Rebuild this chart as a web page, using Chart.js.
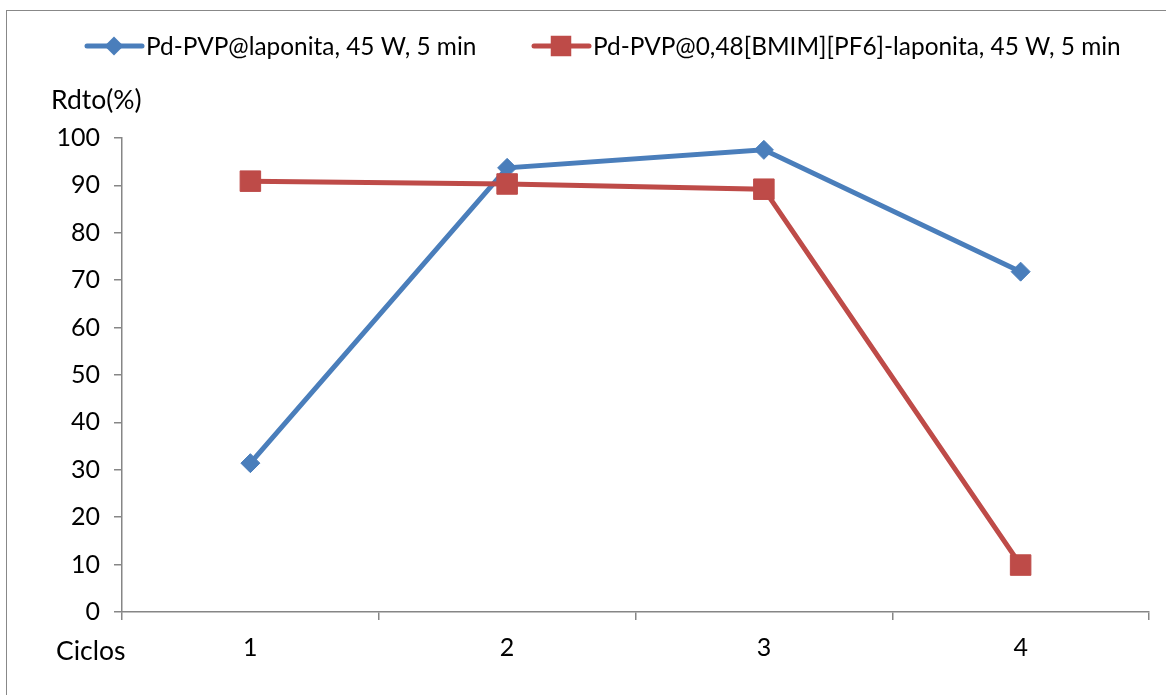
<!DOCTYPE html>
<html>
<head>
<meta charset="utf-8">
<script src="https://cdn.jsdelivr.net/npm/chart.js@4/dist/chart.umd.min.js"></script>
<style>
  html, body { margin: 0; padding: 0; background: #fff; }
  #wrap { position: relative; width: 1166px; height: 695px; overflow: hidden; }
  #frame { position: absolute; left: 6px; top: 10px; width: 1170px; height: 700px; border: 1.5px solid #888; box-sizing: border-box; }
  canvas { position: absolute; left: 0; top: 0; }
</style>
</head>
<body>
<div id="wrap">
  <div id="frame"></div>
  <canvas id="c" width="1166" height="695"></canvas>
</div>
<script>
const categories = ['1', '2', '3', '4'];
const seriesNames = ['Pd-PVP@laponita, 45 W, 5 min', 'Pd-PVP@0,48[BMIM][PF6]-laponita, 45 W, 5 min'];
const seriesLaponita = [31.4, 93.7, 97.5, 71.8];
const seriesBmim = [90.9, 90.3, 89.2, 9.9];
const yTicks = [0, 10, 20, 30, 40, 50, 60, 70, 80, 90, 100];
const yTitle = 'Rdto(%)';
const xTitle = 'Ciclos';

const BLUE = '#4A7EBB';
const RED = '#BE4B48';
const FONT = 'Lato, "Open Sans", sans-serif';
const FS = 25;
const FS_LEGEND = 24.4;
const FS_TITLE = 26.5;

const extrasPlugin = {
  id: 'extras',
  afterDraw(chart) {
    const ctx = chart.ctx;
    ctx.save();
    ctx.fillStyle = '#000';
    ctx.textBaseline = 'middle';
    ctx.textAlign = 'left';
    ctx.font = FS_TITLE + 'px ' + FONT;
    ctx.fillText(yTitle, 51, 100);
    ctx.fillText(xTitle, 56, 651);
    // legend
    ctx.font = FS_LEGEND + 'px ' + FONT;
    const items = [
      { x: 87, ds: chart.data.datasets[0] },
      { x: 534, ds: chart.data.datasets[1] }
    ];
    const ly = 46;
    items.forEach(it => {
      ctx.strokeStyle = it.ds.borderColor;
      ctx.lineWidth = 5;
      ctx.lineCap = 'round';
      ctx.beginPath();
      ctx.moveTo(it.x, ly);
      ctx.lineTo(it.x + 55, ly);
      ctx.stroke();
      ctx.fillStyle = it.ds.pointBackgroundColor;
      ctx.beginPath();
      const r = it.ds.pointRadius;
      const cx = it.x + 27;
      if (it.ds.pointStyle === 'rect') {
        const s = Math.SQRT1_2 * r;
        ctx.rect(cx - s, ly - s, 2 * s, 2 * s);
      } else {
        ctx.moveTo(cx, ly - r); ctx.lineTo(cx + r, ly); ctx.lineTo(cx, ly + r); ctx.lineTo(cx - r, ly); ctx.closePath();
      }
      ctx.fill();
      ctx.fillStyle = '#000';
      ctx.fillText(it.ds.label, it.x + 59, ly + 1);
    });
    ctx.restore();
  }
};

new Chart(document.getElementById('c'), {
  type: 'line',
  data: {
    labels: categories,
    datasets: [
      {
        label: seriesNames[0],
        data: seriesLaponita,
        borderColor: BLUE,
        backgroundColor: BLUE,
        pointBackgroundColor: BLUE,
        pointBorderColor: BLUE,
        pointStyle: 'rectRot',
        pointRadius: 9.5,
        pointBorderWidth: 1,
        borderWidth: 5,
        tension: 0,
        order: 2
      },
      {
        label: seriesNames[1],
        data: seriesBmim,
        borderColor: RED,
        backgroundColor: RED,
        pointBackgroundColor: RED,
        pointBorderColor: RED,
        pointStyle: 'rect',
        pointRadius: 14.5,
        pointBorderWidth: 1,
        borderWidth: 5,
        tension: 0,
        order: 1
      }
    ]
  },
  options: {
    responsive: false,
    animation: false,
    devicePixelRatio: 1,
    layout: { padding: { left: 0, right: 17, top: 138, bottom: 0 } },
    plugins: {
      legend: { display: false },
      tooltip: { enabled: false }
    },
    scales: {
      x: {
        type: 'category',
        offset: true,
        afterFit(s) { s.height = 83; },
        grid: { offset: true, drawOnChartArea: false, color: '#868686', tickLength: 8, lineWidth: 1.5 },
        border: { color: '#868686', width: 1.5 },
        ticks: { color: '#000', font: { family: FONT, size: FS }, padding: 13, maxRotation: 0 }
      },
      y: {
        min: 0,
        max: 100,
        afterFit(s) { s.width = 122; },
        afterBuildTicks(s) { s.ticks = yTicks.map(v => ({ value: v })); },
        grid: { drawOnChartArea: false, color: '#868686', tickLength: 8, lineWidth: 1.5 },
        border: { color: '#868686', width: 1.5 },
        ticks: { color: '#000', font: { family: FONT, size: FS }, padding: 14 }
      }
    }
  },
  plugins: [extrasPlugin]
});
</script>
</body>
</html>
